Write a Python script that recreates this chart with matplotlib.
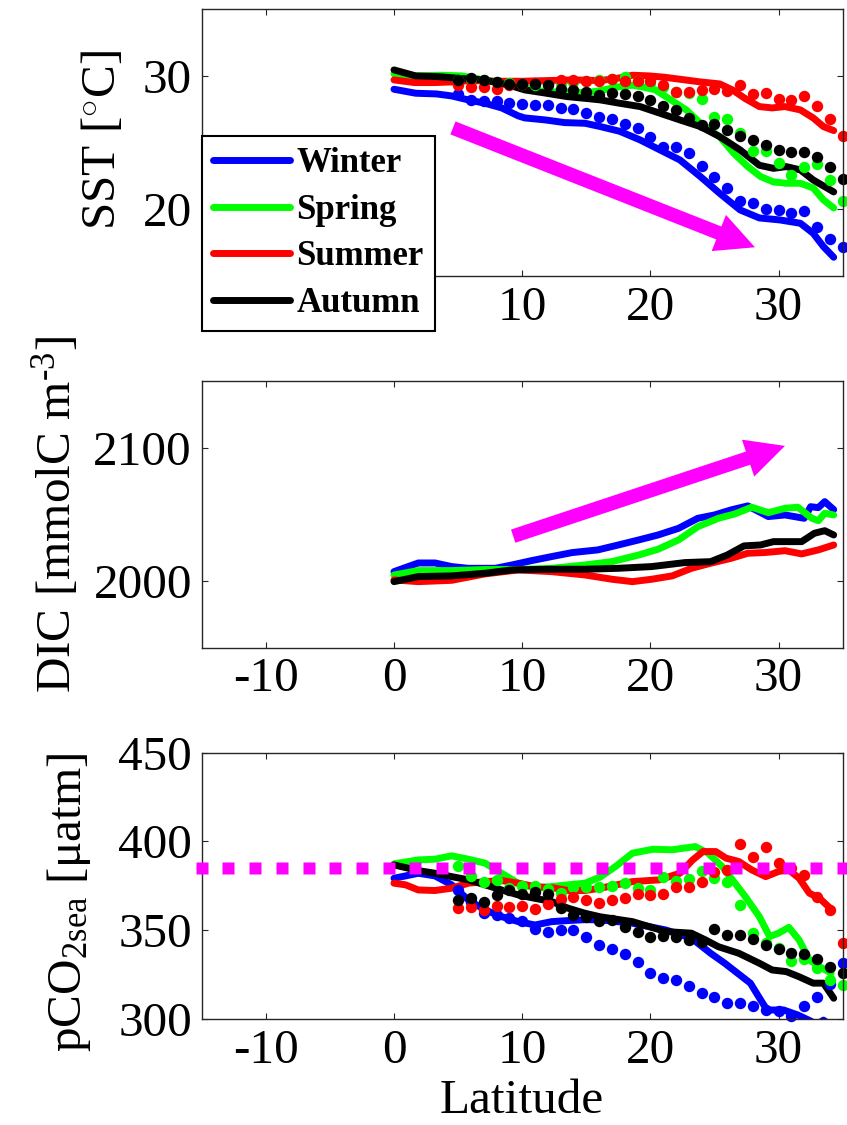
import matplotlib
matplotlib.use("Agg")
import matplotlib.pyplot as plt
import numpy as np
from matplotlib.mathtext import MathTextParser

plt.rcParams['font.family'] = ['Liberation Serif', 'DejaVu Serif']
plt.rcParams['mathtext.fontset'] = 'custom'
plt.rcParams['mathtext.rm'] = 'Liberation Serif'
plt.rcParams['mathtext.it'] = 'Liberation Serif:italic'
plt.rcParams['axes.unicode_minus'] = False

seasons = ['Winter', 'Spring', 'Summer', 'Autumn']
colors = ['#0000ff', '#00ff00', '#ff0000', '#000000']

# dot latitudes (all dotted series)
dot_lat = list(range(5, 36))

# ---------------- SST ----------------
sst_lat_winter = [0, 1.7, 3.3, 4.5, 5.8, 7.1, 8.4, 9.7, 10.2, 11.8, 13.3, 14.9, 16.1, 17.6, 19.2, 20.75, 22.3, 23.9, 25.4, 27.0, 28.5, 30.1, 31.7, 32.7, 33.5, 34.3]
sst_winter = [29.0, 28.7, 28.65, 28.5, 28.2, 27.95, 27.6, 27.0, 26.85, 26.7, 26.5, 26.45, 26.2, 25.85, 25.2, 24.45, 23.7, 22.45, 21.2, 19.95, 19.35, 19.2, 18.95, 18.2, 17.2, 16.4]
sst_lat_spring = [0, 1.7, 3.6, 5.3, 7.0, 9.0, 10.2, 11.9, 13.5, 15.1, 16.1, 17.6, 18.6, 19.5, 20.4, 21.2, 22.8, 23.9, 25.4, 26.5, 27.6, 28.6, 29.6, 30.6, 31.7, 32.7, 33.5, 34.3]
sst_spring = [30.15, 30.0, 30.05, 30.0, 29.7, 29.4, 29.1, 28.8, 28.8, 28.75, 28.9, 29.2, 29.3, 29.15, 28.95, 28.45, 27.45, 26.45, 25.45, 24.2, 23.2, 22.45, 22.05, 21.95, 21.95, 21.6, 20.7, 20.1]
sst_lat_summer = [0, 1.6, 3.2, 4.5, 6.0, 8.0, 10.0, 12.0, 14.0, 16.1, 17.6, 18.6, 19.9, 21.1, 22.7, 23.9, 25.4, 26.4, 27.4, 28.5, 29.5, 30.5, 31.7, 32.7, 33.5, 34.3]
sst_summer = [29.7, 29.5, 29.5, 29.55, 29.65, 29.6, 29.6, 29.65, 29.7, 29.65, 29.85, 30.05, 30.0, 29.9, 29.7, 29.55, 29.4, 28.95, 28.3, 27.7, 27.6, 27.7, 27.45, 26.85, 26.2, 25.9]
sst_lat_autumn = [0, 1.7, 3.4, 5.3, 7.0, 9.0, 10.2, 11.9, 13.5, 15.1, 16.1, 17.6, 19.2, 20.75, 22.3, 23.9, 25.4, 27.0, 28.5, 29.6, 30.6, 31.7, 32.7, 34.3]
sst_autumn = [30.45, 30.0, 29.95, 29.8, 29.7, 29.3, 28.95, 28.7, 28.45, 28.3, 28.2, 27.95, 27.7, 27.2, 26.7, 26.2, 25.45, 24.45, 23.3, 23.07, 23.2, 22.95, 22.2, 21.3]

sst_dots_winter = [28.65, 28.2, 28.1, 28.1, 27.95, 27.9, 27.8, 27.8, 27.6, 27.55, 27.25, 26.95, 26.75, 26.4, 26.1, 25.4, 24.7, 24.7, 24.25, 23.25, 22.45, 21.6, 20.6, 20.45, 20.0, 19.95, 19.75, 19.9, 18.65, 17.8, 17.15]
sst_dots_spring = [29.7, 29.8, 29.7, 29.55, 29.45, 29.4, 29.35, 29.4, 29.5, 29.55, 29.6, 29.7, 29.8, 29.9, 29.6, 29.45, 29.2, 28.8, 28.7, 28.3, 26.95, 26.75, 25.7, 24.4, 24.4, 23.45, 22.6, 23.2, 23.4, 22.2, 20.65]
sst_dots_summer = [29.3, 29.2, 29.2, 29.0, 29.3, 29.4, 29.45, 29.5, 29.7, 29.7, 29.6, 29.6, 29.75, 29.6, 29.6, 29.6, 29.3, 28.8, 28.8, 28.95, 29.05, 28.9, 29.3, 28.65, 28.75, 28.3, 28.2, 28.5, 27.75, 26.75, 25.5]
sst_dots_autumn = [29.7, 29.83, 29.72, 29.57, 29.42, 29.42, 29.42, 29.3, 29.0, 28.92, 28.77, 28.58, 28.75, 28.63, 28.47, 28.17, 27.75, 27.42, 26.85, 26.3, 26.4, 25.95, 25.5, 25.22, 24.8, 24.43, 24.28, 24.28, 23.95, 23.15, 22.28]

# ---------------- DIC ----------------
dic_lat_winter = [0, 1.9, 3.2, 4.5, 5.8, 7.9, 9.2, 10.75, 12.3, 13.9, 15.9, 17.5, 19.1, 20.6, 22.2, 23.7, 25.0, 26.3, 27.6, 29.2, 30.5, 32.0, 32.5, 33.1, 33.6, 34.3]
dic_winter = [2007, 2013.5, 2013.5, 2010.8, 2009.5, 2009.5, 2012, 2015.3, 2018.3, 2021.3, 2023.3, 2027, 2030.8, 2034.5, 2039.5, 2047, 2049.5, 2053.3, 2056.3, 2048.3, 2049.5, 2047, 2055.7, 2055, 2059.5, 2053.5]
dic_lat_spring = [0, 1.9, 4.5, 7.1, 9.7, 12.3, 14.9, 17.0, 19.1, 20.6, 22.2, 23.7, 25.3, 26.6, 27.9, 29.2, 30.5, 31.5, 32.6, 33.1, 33.6, 34.3]
dic_spring = [2004.5, 2007.8, 2007.8, 2008.6, 2008.6, 2009.5, 2012, 2014.5, 2019.5, 2023.8, 2030.8, 2040.7, 2047, 2050.3, 2055.3, 2051.2, 2054.5, 2055.3, 2047, 2045.2, 2050.8, 2049.5]
dic_lat_summer = [0, 1.9, 4.5, 7.1, 9.7, 12.3, 14.9, 17.0, 18.6, 20.1, 21.7, 23.2, 24.7, 26.3, 27.6, 28.9, 30.5, 31.8, 33.1, 34.3]
dic_summer = [2000.8, 1999.5, 2000.5, 2005.3, 2008.3, 2007, 2004.5, 2001.3, 1999.5, 2001.3, 2003.8, 2009.5, 2013.3, 2017, 2020.8, 2021.3, 2022.7, 2020.3, 2023.3, 2027]
dic_lat_autumn = [0, 1.9, 4.5, 7.1, 9.2, 12.3, 14.9, 17.5, 20.1, 22.7, 24.7, 26.0, 27.3, 28.6, 29.6, 31.8, 32.8, 33.6, 34.3]
dic_autumn = [1999.5, 2003.3, 2003.8, 2005.8, 2008.3, 2008.8, 2008.8, 2009.5, 2010.8, 2013.8, 2014.5, 2019.5, 2026.3, 2027, 2029.5, 2029.5, 2035.8, 2037.7, 2034.5]

# ---------------- pCO2 ----------------
pco2_lat_winter = [0, 0.9, 1.9, 3.2, 4.5, 5.8, 7.1, 8.4, 9.7, 11.0, 12.3, 13.6, 14.9, 16.1, 18.6, 21.2, 23.2, 24.7, 25.8, 26.8, 27.8, 28.6, 29.1, 30.4, 31.5, 32.5, 33.0, 33.5, 34.0, 34.3]
pco2_winter = [379.3, 380.6, 382.1, 380.6, 375.6, 367.1, 361.5, 357.7, 354.9, 353, 354.9, 355.5, 356, 355.9, 354, 350.2, 345.6, 337.1, 331.5, 325.9, 320.3, 310.9, 305.2, 305.2, 302.4, 299, 297, 299.5, 297, 298]
pco2_lat_spring = [0, 1.9, 3.2, 4.5, 5.8, 7.1, 8.4, 9.7, 11.0, 12.3, 13.6, 14.9, 16.1, 17.3, 18.6, 20.2, 21.7, 23.5, 24.5, 25.6, 26.4, 27.4, 28.5, 29.3, 30.0, 30.8, 31.6, 32.4, 33.2, 34.1]
pco2_spring = [387.4, 389.6, 390, 391.9, 390, 387.8, 382.1, 376.5, 373.7, 374.6, 375.6, 376.5, 380, 386, 393.4, 395.6, 395.3, 397.1, 393.4, 385.9, 378.4, 369, 357.7, 346.5, 348.4, 351.7, 344.6, 333.4, 329.6, 325.9]
pco2_lat_summer = [0, 0.9, 1.9, 3.2, 4.5, 5.8, 7.1, 8.4, 9.7, 11.0, 12.3, 13.6, 14.9, 16.1, 18.6, 20.7, 22.3, 23.3, 24.1, 25.1, 25.9, 26.9, 27.9, 29.0, 30.0, 30.8, 31.6, 32.4, 33.2, 34.1]
pco2_summer = [376.5, 375.6, 372.7, 372.4, 373.7, 376.5, 377.4, 378, 376.5, 374.6, 374, 372.4, 372.4, 373.7, 377.4, 378.4, 382.1, 389.6, 394.3, 394.3, 390.6, 388.7, 384, 380.2, 383.1, 384, 379.3, 370.9, 368, 361.9]
pco2_lat_autumn = [0, 1.9, 3.2, 4.5, 5.8, 7.1, 8.4, 9.7, 11.0, 12.3, 13.6, 14.9, 16.1, 18.6, 21.2, 23.2, 24.3, 25.3, 26.9, 28.5, 29.5, 30.6, 31.6, 32.7, 33.5, 34.3]
pco2_autumn = [386.8, 383.6, 382.1, 380.2, 378.4, 375.6, 372.7, 369.9, 368, 366.2, 362.4, 359.6, 357.6, 354.9, 349.3, 348.4, 344.6, 340.8, 337.1, 331.5, 327.7, 326.8, 323.9, 320.3, 320.3, 311.8]

pco2_dots_winter = [372.7, 366, 359.6, 358.5, 356.8, 355, 351, 349, 350.2, 350.4, 346, 341.8, 339.7, 336.7, 332.4, 325.9, 323, 322, 318.9, 314.6, 312.6, 309.3, 309.3, 307.3, 305.2, 304.5, 302, 307.5, 312.7, 319.6, 331.5]
pco2_dots_spring = [385.9, 380.5, 377, 378.4, 373.7, 374.8, 374.8, 373.5, 371, 374.5, 374.2, 374.6, 374.8, 376.7, 374, 372.7, 379.9, 377.5, 378.8, 383.4, 379.6, 377, 364.3, 348.7, 342.7, 340, 332.7, 333.8, 328.7, 322.3, 319]
pco2_dots_summer = [362.5, 363, 361.5, 363.7, 363.2, 363.9, 362, 364.9, 367.5, 369, 367, 365.3, 367, 368, 370.2, 369.7, 370.2, 374.6, 374.6, 377.4, 383, 384, 398.8, 391.5, 397, 388.1, 385, 380.9, 368.5, 361.3, 343.1]
pco2_dots_autumn = [367.1, 368.3, 366.2, 369.7, 372.6, 370.7, 371.8, 370.5, 362.4, 358.7, 357.6, 355.3, 355.9, 352.1, 348.9, 346.1, 346.9, 346.1, 344.6, 343.7, 350.6, 347.2, 347.2, 345.4, 341.8, 339.7, 337.3, 336.7, 333.8, 329.5, 326]

# reference (atmospheric) pCO2 level and its marker positions
pco2_ref = 385
ref_lat = np.linspace(-15, 35, 25)

# arrow endpoints (tail, tip) in data coordinates
sst_arrow = ((4.6, 26.1), (28.16, 17.15))
dic_arrow = ((9.3, 2033.6), (30.5, 2101.3))

xticks = [-10, 0, 10, 20, 30]
xticklabels = ['-10', '0', '10', '20', '30']
# top panel: the labels at -10 and 0 sit under the legend box
xticklabels_top = ['', '', '10', '20', '30']


def mathtext_ok(s):
    try:
        MathTextParser('path').parse(s)
        return True
    except Exception:
        return False


# ---------------- figure ----------------
fig = plt.figure(figsize=(8.47, 11.25), dpi=100)
L, W, H = 0.2381, 0.7568, 0.2371
ax1 = fig.add_axes([L, 0.7547, W, H])
ax2 = fig.add_axes([L, 0.4243, W, H])
ax3 = fig.add_axes([L, 0.0940, W, H])

LW = 5.0
MS = 8.2
TICKFS = 35.5


def style(ax, yticks, ylim, xlabels):
    ax.set_xlim(-15, 35)
    ax.set_ylim(*ylim)
    ax.set_xticks(xticks)
    ax.set_xticklabels(xlabels)
    ax.set_yticks(yticks)
    ax.set_yticklabels([str(t) for t in yticks])
    ax.tick_params(direction='in', length=4, width=0.8, top=True, right=True,
                   labelsize=TICKFS, pad=7, colors='#262626', labelcolor='black')
    for s in ax.spines.values():
        s.set_linewidth(1.0)
        s.set_color('#262626')


def draw(ax, lats, vals, dots):
    handles = []
    for la, v, c in zip(lats, vals, colors):
        h, = ax.plot(la, v, color=c, lw=LW, solid_capstyle='round', solid_joinstyle='round')
        handles.append(h)
    if dots is not None:
        for d, c in zip(dots, colors):
            ax.plot(dot_lat, d, linestyle='none', marker='o', ms=MS, mec='none', mfc=c, clip_on=False)
    return handles


hs = draw(ax1, [sst_lat_winter, sst_lat_spring, sst_lat_summer, sst_lat_autumn],
          [sst_winter, sst_spring, sst_summer, sst_autumn],
          [sst_dots_winter, sst_dots_spring, sst_dots_summer, sst_dots_autumn])
draw(ax2, [dic_lat_winter, dic_lat_spring, dic_lat_summer, dic_lat_autumn],
     [dic_winter, dic_spring, dic_summer, dic_autumn], None)
draw(ax3, [pco2_lat_winter, pco2_lat_spring, pco2_lat_summer, pco2_lat_autumn],
     [pco2_winter, pco2_spring, pco2_summer, pco2_autumn],
     [pco2_dots_winter, pco2_dots_spring, pco2_dots_summer, pco2_dots_autumn])

ax3.plot(ref_lat, [pco2_ref] * len(ref_lat), linestyle='none', marker='s', ms=8.8,
         mec='none', mfc='#ff00ff', clip_on=False, zorder=5)

style(ax1, [20, 30], (15, 35), xticklabels_top)
style(ax2, [2000, 2100], (1950, 2150), xticklabels)
style(ax3, [300, 350, 400, 450], (300, 450), xticklabels)

arrow_props = dict(arrowstyle='simple,head_length=28,head_width=28,tail_width=10',
                   mutation_scale=1, color='#ff00ff', lw=0, shrinkA=0, shrinkB=0)
ax1.annotate('', xy=sst_arrow[1], xytext=sst_arrow[0], arrowprops=arrow_props)
ax2.annotate('', xy=dic_arrow[1], xytext=dic_arrow[0], arrowprops=arrow_props)

dic_label = 'DIC [mmolC m$^{\\text{-3}}$]'
if not mathtext_ok('$^{\\text{-3}}$'):
    dic_label = 'DIC [mmolC m$^{\\mathrm{-3}}$]'

ax1.set_ylabel('SST [$^{\\circ}$C]', fontsize=TICKFS)
ax2.set_ylabel(dic_label, fontsize=TICKFS)
ax3.set_ylabel('pCO$_{\\mathrm{2sea}}$ [\u03bcatm]', fontsize=TICKFS)
ax1.yaxis.set_label_coords(-0.12, 0.51)
ax2.yaxis.set_label_coords(-0.189, 0.5)
ax3.yaxis.set_label_coords(-0.17, 0.44)
ax3.set_xlabel('Latitude', fontsize=TICKFS, labelpad=4)

leg = ax1.legend(hs, seasons, loc='upper left', bbox_to_anchor=(0, 0.525),
                 borderaxespad=0, prop={'weight': 'bold', 'size': 25},
                 fancybox=False, framealpha=1, edgecolor='black',
                 handlelength=2.2, handletextpad=0.2, borderpad=0.33, labelspacing=0.39)
leg.get_frame().set_linewidth(1.5)
leg.set_zorder(10)

fig.savefig('out.png', dpi=100)
